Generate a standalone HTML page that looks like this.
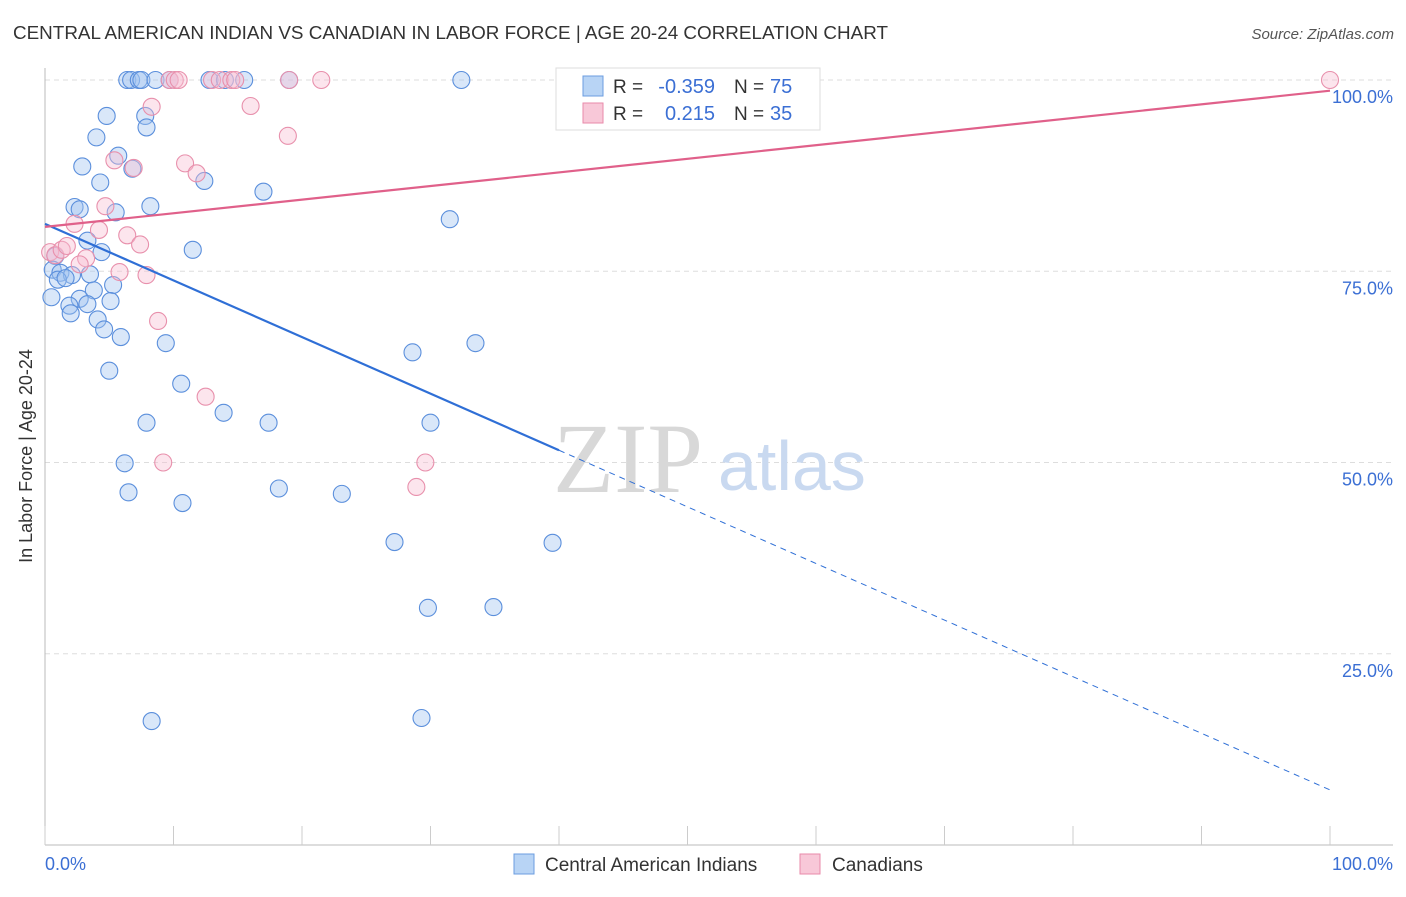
<!DOCTYPE html>
<html><head><meta charset="utf-8"><style>
body{margin:0;background:#fff;font-family:"Liberation Sans",sans-serif;}
</style></head><body>
<svg id="chart" width="1406" height="892" xmlns="http://www.w3.org/2000/svg">
<text x="13" y="39" font-size="18" fill="#333" textLength="875" lengthAdjust="spacingAndGlyphs">CENTRAL AMERICAN INDIAN VS CANADIAN IN LABOR FORCE | AGE 20-24 CORRELATION CHART</text>
<text x="1394" y="39" font-size="15" fill="#555" font-style="italic" text-anchor="end">Source: ZipAtlas.com</text>
<text x="32" y="456" font-size="18" fill="#333" text-anchor="middle" transform="rotate(-90 32 456)">In Labor Force | Age 20-24</text>
<g id="grid"></g>
<text x="553" y="492" font-size="100" fill="#d8d8d8" font-family="Liberation Serif,serif">ZIP</text>
<text x="718" y="490" font-size="70" fill="#c9d9f0">atlas</text>
<g id="points"></g>
<g id="lines"></g>
<g>
<rect x="556" y="68" width="264" height="62" fill="#fff" stroke="#ddd"/>
<rect x="583" y="76" width="20" height="20" fill="#b8d4f5" stroke="#6b9de0"/>
<rect x="583" y="103" width="20" height="20" fill="#f8c8d8" stroke="#e88aaa"/>
<text x="613" y="93" font-size="19" fill="#333">R =</text>
<text x="715" y="93" font-size="20" fill="#3b6fd4" text-anchor="end">-0.359</text>
<text x="734" y="93" font-size="19" fill="#333">N =</text>
<text x="770" y="93" font-size="20" fill="#3b6fd4">75</text>
<text x="613" y="120" font-size="19" fill="#333">R =</text>
<text x="715" y="120" font-size="20" fill="#3b6fd4" text-anchor="end">0.215</text>
<text x="734" y="120" font-size="19" fill="#333">N =</text>
<text x="770" y="120" font-size="20" fill="#3b6fd4">35</text>
</g>
<g>
<rect x="514" y="854" width="20" height="20" fill="#b8d4f5" stroke="#6b9de0"/>
<text x="545" y="871" font-size="19" fill="#333">Central American Indians</text>
<rect x="800" y="854" width="20" height="20" fill="#f8c8d8" stroke="#e88aaa"/>
<text x="832" y="871" font-size="19" fill="#333">Canadians</text>
</g>
</svg>
<script>
const blueX=[6.4,6.7,7.3,7.5,8.6,9.7,12.8,14,15.5,19,32.4,4.8,7.8,4,7.9,2.9,5.7,4.3,6.8,12.4,17,2.3,2.7,5.5,8.2,31.5,3.3,4.4,11.5,0.8,0.6,1.2,2.1,3.5,1,1.6,3.8,5.3,0.5,2.7,1.9,3.3,5.1,2,4.1,4.6,5.9,9.4,28.6,33.5,5,10.6,13.9,7.9,17.4,30,6.2,6.5,10.7,18.2,23.1,27.2,39.5,29.8,34.9,8.3,29.3];
const blueY=[100,100,100,100,100,100,100,100,100,100,100,95.3,95.3,92.5,93.8,88.7,90.1,86.6,88.4,86.8,85.4,83.4,83.1,82.7,83.5,81.8,79,77.5,77.8,77,75.2,74.8,74.5,74.6,73.9,74.1,72.5,73.2,71.6,71.4,70.5,70.7,71.1,69.5,68.7,67.4,66.4,65.6,64.4,65.6,62,60.3,56.5,55.2,55.2,55.2,49.9,46.1,44.7,46.6,45.9,39.6,39.5,31,31.1,16.2,16.6];
const pinkX=[9.7,10.1,10.4,13,13.6,14.5,14.8,19,21.5,100,8.3,16,18.9,5.4,6.9,10.9,11.8,4.7,2.3,4.2,6.4,7.4,0.4,0.8,1.3,1.7,3.2,2.7,5.8,7.9,8.8,12.5,9.2,29.6,28.9];
const pinkY=[100,100,100,100,100,100,100,100,100,100,96.5,96.6,92.7,89.5,88.5,89.1,87.8,83.5,81.2,80.4,79.7,78.5,77.5,77.1,77.8,78.3,76.7,75.9,74.9,74.5,68.5,58.6,50,50,46.8];
const yTicks=[25,50,75,100];
const xTicks=[0,10,20,30,40,50,60,70,80,90,100];
const blueTrend=[81.2,7.2];
const pinkTrend=[80.8,98.6];
const blueSolidEnd=40;
const X=v=>45+v*12.85, Y=v=>845-v*7.65;
const NS="http://www.w3.org/2000/svg";
function mk(t,a,p){const e=document.createElementNS(NS,t);for(const k in a)e.setAttribute(k,a[k]);p.appendChild(e);return e;}
const g=document.getElementById('grid');
yTicks.forEach(v=>{
 const l=mk('line',{x1:45,x2:1393,y1:Y(v),y2:Y(v),stroke:'#ddd','stroke-dasharray':'5,4'},g);
 
 
 const t=mk('text',{x:1393,y:Y(v)+23,'font-size':18,fill:'#3b6fd4','text-anchor':'end'},g);t.textContent=v.toFixed(1)+'%';
 
 
});
mk('line',{x1:45,x2:45,y1:68,y2:845,stroke:'#bbb'},g);
mk('line',{x1:45,x2:1393,y1:845,y2:845,stroke:'#bbb'},g);
xTicks.forEach(v=>{const l=mk('line',{x1:X(v),x2:X(v),y1:826,y2:845,stroke:'#ccc'},g);
 
 });
[[0,'start',45],[100,'end',1393]].forEach(([v,a,x])=>{const t=mk('text',{x:x,y:870,'font-size':18,fill:'#3b6fd4','text-anchor':a},g);t.textContent=v.toFixed(1)+'%';
 
 });
const pg=document.getElementById('points');
blueX.forEach((x,i)=>{const c=mk('circle',{cx:X(x),cy:Y(blueY[i]),r:8.5,fill:'rgba(160,196,240,0.4)',stroke:'#5b8fdc','stroke-width':1.1},pg);
 
 });
pinkX.forEach((x,i)=>{const c=mk('circle',{cx:X(x),cy:Y(pinkY[i]),r:8.5,fill:'rgba(248,190,210,0.4)',stroke:'#e890ac','stroke-width':1.1},pg);
 
 });
const lg=document.getElementById('lines');
const bAt=v=>blueTrend[0]+(blueTrend[1]-blueTrend[0])*v/100;
let l1=mk('line',{x1:X(0),y1:Y(bAt(0)),x2:X(blueSolidEnd),y2:Y(bAt(blueSolidEnd)),stroke:'#2f6fd6','stroke-width':2.2},lg);


let l2=mk('line',{x1:X(blueSolidEnd),y1:Y(bAt(blueSolidEnd)),x2:X(100),y2:Y(bAt(100)),stroke:'#2f6fd6','stroke-width':1,'stroke-dasharray':'6,5'},lg);


let l3=mk('line',{x1:X(0),y1:Y(pinkTrend[0]),x2:X(100),y2:Y(pinkTrend[1]),stroke:'#e0608a','stroke-width':2.2},lg);


</script>
</body></html>
